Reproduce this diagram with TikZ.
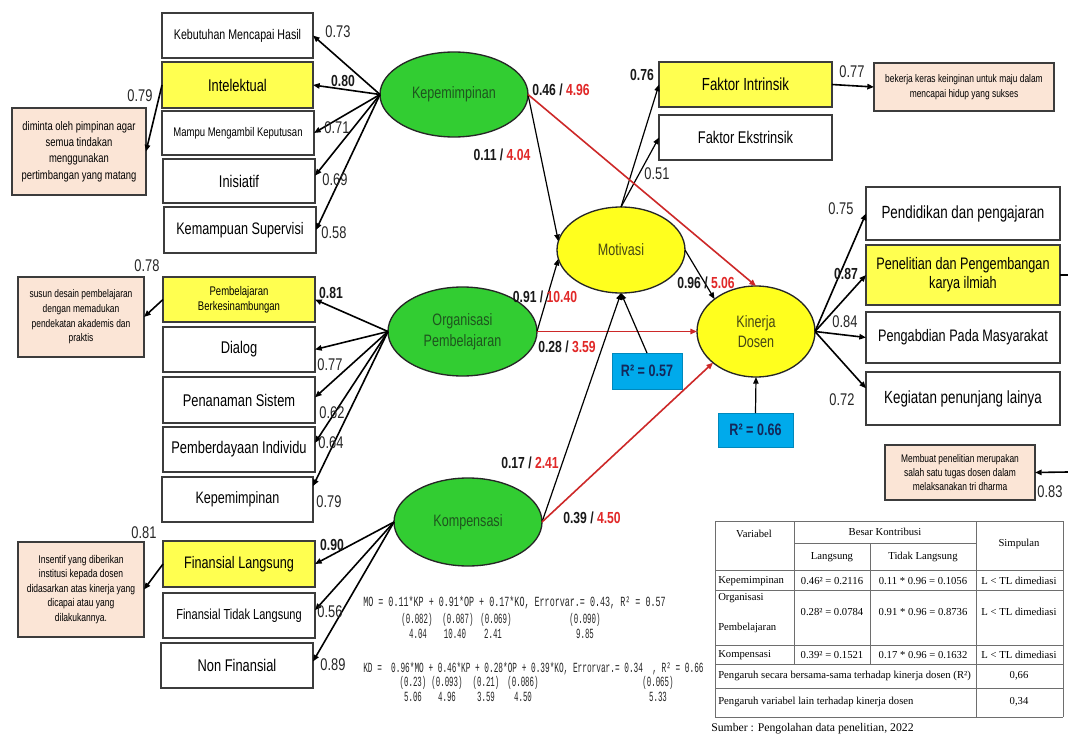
\documentclass[tikz,border=0pt]{standalone}
\usepackage{fontspec}
\setmainfont[FakeStretch=0.76]{Liberation Sans}
\newfontfamily\tabfont{Liberation Serif}
\newfontfamily\eqfont[FakeStretch=0.6]{Liberation Mono}
\newfontfamily\eqfontb[FakeStretch=0.555]{Liberation Mono}
\newfontfamily\eqfontc[FakeStretch=0.53]{Liberation Mono}
\usetikzlibrary{shapes.geometric,arrows.meta}
\newcommand\fs[2]{\fontsize{#1}{#2}\selectfont}
\newcommand\bx[7]{\node[#1, minimum width={(#5-#3)*0.75pt}, minimum height={(#6-#4)*0.75pt}] (#2) at ({(#3+#5)/2},{(#4+#6)/2}) {#7};}
\definecolor{kgreen}{RGB}{50,205,50}
\definecolor{kyellow}{RGB}{255,255,30}
\definecolor{bxyellow}{RGB}{255,255,80}
\definecolor{peach}{RGB}{251,229,214}
\definecolor{kred}{RGB}{205,40,40}
\definecolor{numred}{RGB}{225,40,40}
\definecolor{kblue}{RGB}{0,170,235}
\definecolor{navy}{RGB}{20,40,90}
\definecolor{bordergray}{RGB}{60,60,60}
\definecolor{dgreen}{RGB}{30,85,30}
\definecolor{dolive}{RGB}{70,70,20}
\definecolor{tabline}{RGB}{110,110,110}
\tikzset{
 box/.style={draw=bordergray, line width=1pt, fill=white, inner sep=0pt, outer sep=0pt, align=center, font=\fs{12.7}{15}},
 ybox/.style={box, fill=bxyellow},
 note/.style={draw=bordergray, line width=1pt, fill=peach, inner sep=0pt, outer sep=0pt, align=center, font=\fs{8.3}{11}},
 lat/.style={ellipse, draw=black!85, line width=1pt, fill=kgreen, inner sep=0pt, outer sep=0pt, align=center, text=dgreen, font=\fs{12.4}{15.5}},
 ylat/.style={lat, fill=kyellow, text=dolive},
 rbox/.style={fill=kblue, draw=kblue!80!black, line width=0.5pt, inner sep=0pt, outer sep=0pt, font=\bfseries\fs{12.4}{14}, text=navy},
 tip/.style={-{Triangle[length=5pt,width=4pt]}},
 ld/.style={draw=black, line width=1.2pt, tip},
 st/.style={draw=black, line width=0.9pt, tip},
 rd/.style={draw=kred, line width=1.2pt, tip},
 num/.style={inner sep=0pt, font=\fs{12.7}{14}, text=black!85},
 bnum/.style={inner sep=0pt, font=\bfseries\fs{12}{14}, text=black!90},
 tab/.style={inner sep=0pt, font=\tabfont\fs{8}{10}},
 tabl/.style={tab, anchor=west},
 eq/.style={inner sep=0pt, font=\eqfont\fs{10.5}{12}, anchor=west, text=black!85},
 eqc/.style={inner sep=0pt, font=\eqfontc\fs{10.5}{12}, text=black!85},
}
\begin{document}
\begin{tikzpicture}[x=0.75pt, y=-0.75pt]
\useasboundingbox (0,0) rectangle (1068,735);
\fill[white] (0,0) rectangle (1068,735);

% ---------- latent variables ----------
\node[lat, minimum width=111pt, minimum height=63.75pt] (kp) at (454,94.5) {Kepemimpinan};
\node[lat, minimum width=111.75pt, minimum height=66.75pt] (op) at (462.5,331.5) {Organisasi\\Pembelajaran};
\node[lat, minimum width=111pt, minimum height=66pt] (ko) at (468,522) {Kompensasi};
\node[ylat, minimum width=96pt, minimum height=64.5pt] (mo) at (621,250) {Motivasi};
\node[ylat, minimum width=88.5pt, minimum height=68.25pt, font=\fs{12.4}{15}] (kd) at (756,331.5) {Kinerja\\Dosen};

% ---------- indicator boxes, left ----------
\bx{box, font=\fs{10.5}{12}}{kb}{162}{13}{313}{58}{Kebutuhan Mencapai Hasil}
\bx{ybox}{ie}{162}{62}{313}{108}{Intelektual}
\bx{box, font=\fs{9.4}{11}}{mk}{162}{111}{314}{155}{Mampu Mengambil Keputusan}
\bx{box}{in}{163}{159}{315}{203}{Inisiatif}
\bx{box, font=\fs{12.5}{14}}{ks}{164}{207}{316}{253}{Kemampuan Supervisi}

\bx{ybox, font=\fs{9.4}{11.3}}{pb}{163}{277}{315}{322}{Pembelajaran\\Berkesinambungan}
\bx{box}{dl}{163}{327}{315}{372}{Dialog}
\bx{box}{ps}{163}{377}{315}{423}{Penanaman Sistem}
\bx{box}{pi}{163}{427}{315}{472}{Pemberdayaan Individu}
\bx{box, font=\fs{12.4}{14}}{kp2}{162}{477}{313}{522}{Kepemimpinan}

\bx{ybox, font=\fs{12.5}{14}}{fl}{163}{541}{315}{587}{Finansial Langsung}
\bx{box, font=\fs{10.9}{12}}{ft}{163}{593}{315}{638}{Finansial Tidak Langsung}
\bx{box}{nf}{161}{643}{313}{688}{Non Finansial}

% ---------- notes ----------
\bx{note, font=\fs{9.3}{12.2}}{n1}{12}{108}{146}{195}{diminta oleh pimpinan agar\\semua tindakan\\menggunakan\\pertimbangan yang matang}
\bx{note}{n2}{18}{277}{144}{357}{susun desain pembelajaran\\dengan memadukan\\pendekatan akademis dan\\praktis}
\bx{note, font=\fs{8.4}{10.9}}{n3}{18}{542}{144}{637}{Insentif yang diberikan\\institusi kepada dosen\\didasarkan atas kinerja yang\\dicapai atau yang\\dilakukannya.}
\bx{note}{n4}{874}{63}{1054}{111}{bekerja keras keinginan untuk maju dalam\\mencapai hidup yang sukses}
\bx{note, font=\fs{8.3}{10.5}}{n5}{885}{445}{1035}{500}{Membuat penelitian merupakan\\salah satu tugas dosen dalam\\melaksanakan tri dharma}

% ---------- motivasi indicators ----------
\bx{ybox, font=\fs{13.1}{15}}{fi}{659}{62}{832}{107}{Faktor Intrinsik}
\bx{box}{fe}{659}{115}{832}{160}{Faktor Ekstrinsik}

% ---------- kinerja indicators ----------
\bx{box, font=\fs{13.2}{15}}{pp}{866}{187}{1060}{240}{Pendidikan dan pengajaran}
\bx{ybox, font=\fs{12.5}{14.5}}{pe}{866}{245}{1060}{305}{Penelitian dan Pengembangan\\karya ilmiah}
\bx{box, font=\fs{12.5}{14}}{pm}{866}{312}{1060}{363}{Pengabdian Pada Masyarakat}
\bx{box, font=\fs{13.2}{15}}{kg}{866}{372}{1060}{425}{Kegiatan penunjang lainya}

% ---------- R2 boxes ----------
\bx{rbox}{r1}{612}{353}{682}{389}{R² = 0.57}
\bx{rbox}{r2}{718}{413}{793}{447}{R² = 0.66}

% ---------- loadings ----------
\draw[ld] (kp.west) -- (kb.east);
\draw[ld] (kp.west) -- (ie.east);
\draw[ld] (kp.west) -- (mk.east);
\draw[ld] (kp.west) -- (in.4);
\draw[ld] (kp.west) -- (ks.east);
\draw[ld] (op.west) -- (pb.east);
\draw[ld] (op.west) -- (dl.east);
\draw[ld] (op.west) -- (ps.2);
\draw[ld] (op.west) -- (pi.5);
\draw[ld] (op.west) -- (kp2.10);
\draw[ld] (ko.west) -- (fl.east);
\draw[ld] (ko.west) -- (ft.4);
\draw[ld] (ko.west) -- (nf.3);
\draw[ld] (ie.west) -- (n1.east);
\draw[ld] (pb.west) -- (n2.east);
\draw[ld] (fl.west) -- (n3.east);
\draw[ld] (fi.east) -- (n4.west);
\draw[st] (mo.north) -- (fi.west);
\draw[st] (mo.north) -- (fe.west);
\draw[ld] (kd.east) -- (pp.west);
\draw[ld] (kd.east) -- (pe.west);
\draw[ld] (kd.east) -- (pm.west);
\draw[ld] (kd.east) -- (kg.174);
\coordinate (eA) at (1068,275);
\coordinate (eB) at (1068,472);
\draw[line width=1.2pt] (pe.east) -- (eA);
\draw[ld] (eB) -- (n5.east);

% ---------- structural paths ----------
\draw[st] (kp.east) -- (mo.172);
\draw[rd] (kp.east) -- (kd.north);
\draw[st] (op.east) -- (mo.188);
\draw[rd] (op.east) -- (kd.west);
\draw[st] (ko.east) -- (mo.south);
\draw[rd] (ko.east) -- (kd.216);
\draw[st] (mo.east) -- (kd.142);
\draw[st] (r1.north) -- (mo.south);
\draw[st] (r2.north) -- (kd.south);

% ---------- path labels ----------
\node[bnum] (l46) at (561,90) {0.46 / \textcolor{numred}{4.96}};
\node[bnum] (l11) at (502,155) {0.11 / \textcolor{numred}{4.04}};
\node[bnum] (l91) at (545,297) {0.91 / \textcolor{numred}{10.40}};
\node[bnum] (l28) at (567,347) {0.28 / \textcolor{numred}{3.59}};
\node[bnum] (l17) at (530,463) {0.17 / \textcolor{numred}{2.41}};
\node[bnum] (l39) at (592,518) {0.39 / \textcolor{numred}{4.50}};
\node[bnum] (l96) at (706,283) {0.96 / \textcolor{numred}{5.06}};

% ---------- loading labels ----------
\node[num] (a1) at (338,32) {0.73};
\node[bnum] (a2) at (343,81) {0.80};
\node[num] (a3) at (337,128) {0.71};
\node[num] (a4) at (335,180) {0.69};
\node[num] (a5) at (334,233) {0.58};
\node[num] (a6) at (140,96) {0.79};
\node[num] (a7) at (147,266) {0.78};
\node[num] (a8) at (144,533) {0.81};
\node[bnum] (b1) at (331,293) {0.81};
\node[num] (b2) at (330,365) {0.77};
\node[num] (b3) at (332,413) {0.62};
\node[num] (b4) at (331,443) {0.64};
\node[num] (b5) at (329,502) {0.79};
\node[bnum] (c1) at (332,545) {0.90};
\node[num] (c2) at (330,612) {0.56};
\node[num] (c3) at (333,665) {0.89};
\node[bnum] (d1) at (642,75) {0.76};
\node[num] (d2) at (657,174) {0.51};
\node[num] (d3) at (852,72) {0.77};
\node[num] (e1) at (841,209) {0.75};
\node[bnum] (e2) at (846,274) {0.87};
\node[num] (e3) at (845,322) {0.84};
\node[num] (e4) at (842,400) {0.72};
\node[num] (e5) at (1050,492) {0.83};

% ---------- equations ----------
\node[eq] (q1) at (363,603) {MO = 0.11*KP + 0.91*OP + 0.17*KO, Errorvar.= 0.43, R² = 0.57};
\node[eqc] (q2a) at (417,620) {(0.082)};
\node[eqc] (q2b) at (458,620) {(0.087)};
\node[eqc] (q2c) at (496,620) {(0.069)};
\node[eqc] (q2d) at (585,620) {(0.090)};
\node[eqc] (q3a) at (418,634) {4.04};
\node[eqc] (q3b) at (455,634) {10.40};
\node[eqc] (q3c) at (493,634) {2.41};
\node[eqc] (q3d) at (585,634) {9.85};
\node[eq, font=\eqfontb\fs{10.5}{12}] (q4) at (363,669) {KD =~ 0.96*MO + 0.46*KP + 0.28*OP + 0.39*KO, Errorvar.= 0.34~ , R² = 0.66};
\node[eqc] (q5a) at (413,683) {(0.23)};
\node[eqc] (q5b) at (447,683) {(0.093)};
\node[eqc] (q5c) at (486,683) {(0.21)};
\node[eqc] (q5d) at (523,683) {(0.086)};
\node[eqc] (q5e) at (658,683) {(0.065)};
\node[eqc] (q6a) at (413,697) {5.06};
\node[eqc] (q6b) at (447,697) {4.96};
\node[eqc] (q6c) at (486,697) {3.59};
\node[eqc] (q6d) at (523,697) {4.50};
\node[eqc] (q6e) at (658,697) {5.33};

% ---------- table ----------
\begin{scope}[draw=tabline, line width=0.6pt]
\draw (715,521) -- (1063,521);
\draw (794,543) -- (976,543);
\draw (715,570) -- (1063,570);
\draw (715,590) -- (1063,590);
\draw (715,645) -- (1063,645);
\draw (715,664) -- (1063,664);
\draw (715,688) -- (1063,688);
\draw (715,717) -- (1063,717);
\draw (715,521) -- (715,717);
\draw (794,521) -- (794,664);
\draw (870,543) -- (870,664);
\draw (976,521) -- (976,717);
\draw (1063,521) -- (1063,717);
\end{scope}
\node[tab] (t1) at (754,534) {Variabel};
\node[tab] (t2) at (885,532) {Besar Kontribusi};
\node[tab] (t3) at (1019,544) {Simpulan};
\node[tab] (t4) at (832,557) {Langsung};
\node[tab] (t5) at (923,557) {Tidak Langsung};
\node[tabl] (t6) at (718,581) {Kepemimpinan};
\node[tab] (t7) at (832,581) {0.46² = 0.2116};
\node[tab] (t8) at (923,581) {0.11 * 0.96 = 0.1056};
\node[tab] (t9) at (1019,581) {L < TL dimediasi};
\node[tabl] (t10) at (718,598) {Organisasi};
\node[tabl] (t11) at (718,628) {Pembelajaran};
\node[tab] (t12) at (832,612) {0.28² = 0.0784};
\node[tab] (t13) at (923,612) {0.91 * 0.96 = 0.8736};
\node[tab] (t14) at (1019,612) {L < TL dimediasi};
\node[tabl] (t15) at (718,655) {Kompensasi};
\node[tab] (t16) at (832,655) {0.39² = 0.1521};
\node[tab] (t17) at (923,655) {0.17 * 0.96 = 0.1632};
\node[tab] (t18) at (1019,655) {L < TL dimediasi};
\node[tabl] (t19) at (718,676) {Pengaruh secara bersama-sama terhadap kinerja dosen (R²)};
\node[tab] (t20) at (1019,676) {0,66};
\node[tabl] (t21) at (718,702) {Pengaruh variabel lain terhadap kinerja dosen};
\node[tab] (t22) at (1019,702) {0,34};
\node[tabl, font=\tabfont\fs{8.8}{10}] (t23) at (711,729) {Sumber : Pengolahan data penelitian, 2022};
\end{tikzpicture}
\end{document}
